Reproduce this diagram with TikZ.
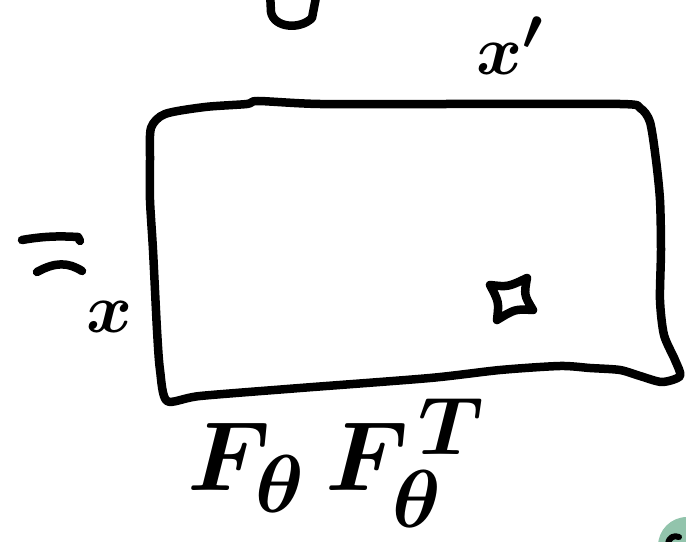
\documentclass[tikz,border=0pt]{standalone}
\usepackage{amsmath}
\usepackage{graphicx}
\usepackage{tikz}
\usetikzlibrary{calc}
\definecolor{inkblack}{RGB}{0, 0, 0}
\definecolor{sagegreen}{RGB}{146, 196, 172}
\newcommand{\inkbig}[2]{\scalebox{#1}{#2}}
\tikzset{
  inkline/.style={
    draw=inkblack,
    line width=1.7mm,
    line cap=round,
    line join=round
  },
  inklabel/.style={
    inner sep=0pt,
    text=inkblack,
    font=\Huge\boldmath
  }
}

\begin{document}
\begin{tikzpicture}[x=0.2mm, y=-0.2mm]
  \useasboundingbox (0,0) rectangle (686,542);
  \clip (0,0) rectangle (686,542);

  % the sheet
  \draw[inkline] plot[smooth cycle, tension=0.45] coordinates {
    (150,160) (151,128) (165,114) (205,107) (247,104) (258,101) (320,104)
    (450,104) (620,104) (640,108) (650,122) (656,160) (660,200) (661,250)
    (660,300) (664,335) (675,360) (680,376) (662,382) (640,376) (620,370)
    (590,368) (560,366) (500,370) (430,378) (300,388) (200,396) (167,401)
    (160,370) (157,330) (153,250) (150,200)};

  % small square on the sheet
  \draw[inkline] (490,285) .. controls (508,287) .. (527,278)
    .. controls (524,295) .. (533,310)
    .. controls (515,309) .. (497,320)
    .. controls (499,302) .. cycle;

  % labels
  \node[inklabel] (xprime) at (510,46) {\inkbig{1.6}{$x'$}};
  \node[inklabel] (xin) at (110,317) {\inkbig{1.6}{$x$}};
  \node[inklabel] (jac) at (337,463) {\inkbig{2.25}{$F_\theta\, F_\theta^{\mkern2mu T}$}};

  % mark left of the sheet
  \draw[inkline] (22,240) .. controls (45,236) and (60,236) .. (78,237) -- (80,241);
  \draw[inkline] (37,272) .. controls (55,262) and (68,262) .. (82,271);

  % glyph cut off at the top
  \draw[inkline] (270,-8) -- (271,12) .. controls (274,28) and (300,30) .. (312,18) -- (317,-8);

  % corner badge
  \fill[sagegreen] (687,546) circle (29);
  \draw[inkline, line width=1.2mm] (668,544) .. controls (669,537) and (674,535) .. (679,537);
\end{tikzpicture}
\end{document}
